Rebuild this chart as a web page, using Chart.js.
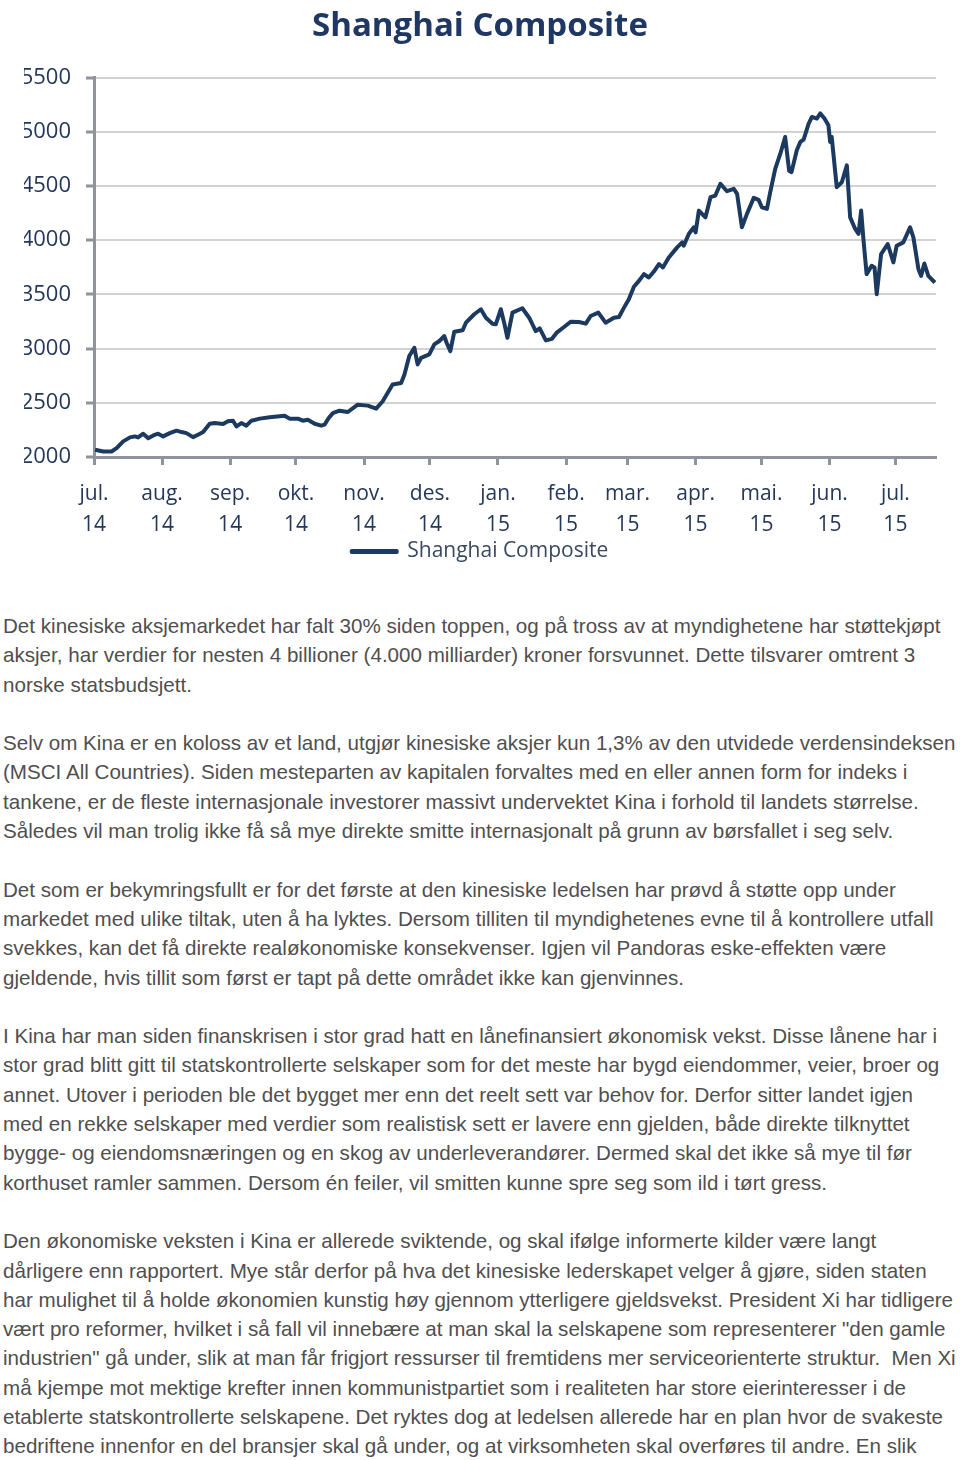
<!DOCTYPE html>
<html>
<head>
    <title>Shanghai Composite</title>
    <script src="https://cdn.jsdelivr.net/npm/chart.js"></script>
    <style>
        body {
            margin: 0;
            background: #fff;
        }
        #chartBox {
            position: absolute;
            left: 0;
            top: 0;
            width: 960px;
            height: 572px;
        }
        #article {
            position: absolute;
            left: 3px;
            top: 611px;
            font-family: "Liberation Sans", Arial, sans-serif;
            font-size: 20.6px;
            line-height: 29.3px;
            color: #4f4f4f;
            white-space: nowrap;
        }
        #article p {
            margin: 0 0 29.3px 0;
        }
    </style>
</head>
<body>
    <div id="chartBox"><canvas id="chart"></canvas></div>

    <div id="article">
        <p>Det kinesiske aksjemarkedet har falt 30% siden toppen, og på tross av at myndighetene har støttekjøpt<br>
        aksjer, har verdier for nesten 4 billioner (4.000 milliarder) kroner forsvunnet. Dette tilsvarer omtrent 3<br>
        norske statsbudsjett.</p>
        <p>Selv om Kina er en koloss av et land, utgjør kinesiske aksjer kun 1,3% av den utvidede verdensindeksen<br>
        (MSCI All Countries). Siden mesteparten av kapitalen forvaltes med en eller annen form for indeks i<br>
        tankene, er de fleste internasjonale investorer massivt undervektet Kina i forhold til landets størrelse.<br>
        Således vil man trolig ikke få så mye direkte smitte internasjonalt på grunn av børsfallet i seg selv.</p>
        <p>Det som er bekymringsfullt er for det første at den kinesiske ledelsen har prøvd å støtte opp under<br>
        markedet med ulike tiltak, uten å ha lyktes. Dersom tilliten til myndighetenes evne til å kontrollere utfall<br>
        svekkes, kan det få direkte realøkonomiske konsekvenser. Igjen vil Pandoras eske-effekten være<br>
        gjeldende, hvis tillit som først er tapt på dette området ikke kan gjenvinnes.</p>
        <p>I Kina har man siden finanskrisen i stor grad hatt en lånefinansiert økonomisk vekst. Disse lånene har i<br>
        stor grad blitt gitt til statskontrollerte selskaper som for det meste har bygd eiendommer, veier, broer og<br>
        annet. Utover i perioden ble det bygget mer enn det reelt sett var behov for. Derfor sitter landet igjen<br>
        med en rekke selskaper med verdier som realistisk sett er lavere enn gjelden, både direkte tilknyttet<br>
        bygge- og eiendomsnæringen og en skog av underleverandører. Dermed skal det ikke så mye til før<br>
        korthuset ramler sammen. Dersom én feiler, vil smitten kunne spre seg som ild i tørt gress.</p>
        <p>Den økonomiske veksten i Kina er allerede sviktende, og skal ifølge informerte kilder være langt<br>
        dårligere enn rapportert. Mye står derfor på hva det kinesiske lederskapet velger å gjøre, siden staten<br>
        har mulighet til å holde økonomien kunstig høy gjennom ytterligere gjeldsvekst. President Xi har tidligere<br>
        vært pro reformer, hvilket i så fall vil innebære at man skal la selskapene som representerer "den gamle<br>
        industrien" gå under, slik at man får frigjort ressurser til fremtidens mer serviceorienterte struktur.&nbsp; Men Xi<br>
        må kjempe mot mektige krefter innen kommunistpartiet som i realiteten har store eierinteresser i de<br>
        etablerte statskontrollerte selskapene. Det ryktes dog at ledelsen allerede har en plan hvor de svakeste<br>
        bedriftene innenfor en del bransjer skal gå under, og at virksomheten skal overføres til andre. En slik</p>
    </div>

    <script>
        // days since 1 jul 2014
        const days = [
            0.5, 4.2, 8.0, 10.3, 13.3, 16.4, 18.6, 20.1, 22.4, 24.7,
            27.0, 29.2, 31.5, 34.5, 37.6, 39.9, 42.1, 45.1, 47.4, 49.7,
            52.7, 55.0, 58.8, 61.0, 63.3, 64.9, 67.1, 69.4, 71.7, 75.5,
            80.0, 86.8, 89.1, 92.9, 95.1, 97.4, 100.5, 103.5, 105.0, 106.9,
            108.8, 111.8, 115.6, 120.1, 124.7, 128.5, 131.5, 136.0, 139.9, 141.4,
            143.6, 145.9, 147.4, 149.0, 152.7, 155.0, 157.3, 159.5, 160.6, 162.3,
            164.1, 167.9, 169.4, 173.2, 176.2, 178.5, 181.5, 183.0, 185.3, 186.8,
            188.3, 190.6, 195.1, 198.2, 201.2, 203.0, 205.8, 208.6, 210.9, 214.1,
            217.1, 220.9, 224.0, 226.2, 229.7, 233.0, 236.8, 239.1, 241.4, 243.6,
            245.9, 248.2, 250.5, 252.7, 255.0, 257.3, 259.1, 261.8, 265.6, 267.9,
            268.6, 270.9, 273.2, 274.0, 275.5, 278.5, 280.8, 283.0, 285.3, 288.3,
            291.4, 292.9, 295.1, 297.4, 300.5, 302.7, 304.2, 306.5, 308.0, 310.3,
            312.6, 314.8, 316.6, 317.7, 320.1, 321.7, 323.2, 325.5, 327.0, 329.2,
            330.8, 332.7, 334.5, 335.3, 336.0, 338.3, 340.6, 342.9, 344.4, 346.7,
            348.2, 349.4, 350.5, 351.9, 354.2, 355.5, 356.5, 358.5, 361.5, 364.1,
            365.6, 368.6, 371.7, 373.2, 375.5, 376.7, 378.2, 380.0, 383.0
        ];

        const composite = [
            2067, 2051, 2051, 2082, 2144, 2181, 2190, 2181, 2215, 2174,
            2199, 2215, 2190, 2220, 2243, 2230, 2220, 2183, 2206, 2230,
            2307, 2313, 2304, 2329, 2335, 2282, 2313, 2289, 2335, 2354,
            2366, 2381, 2354, 2354, 2335, 2344, 2307, 2289, 2298, 2360,
            2405, 2427, 2415, 2483, 2474, 2446, 2514, 2669, 2683, 2761,
            2931, 3008, 2854, 2915, 2946, 3039, 3070, 3116, 3054, 2977,
            3156, 3169, 3239, 3317, 3363, 3285, 3230, 3224, 3363, 3239,
            3100, 3332, 3372, 3285, 3162, 3187, 3076, 3090, 3150, 3199,
            3248, 3245, 3230, 3301, 3332, 3239, 3285, 3292, 3378, 3456,
            3570, 3625, 3687, 3656, 3711, 3780, 3749, 3841, 3934, 3980,
            3949, 4058, 4119, 4072, 4273, 4211, 4397, 4412, 4521, 4452,
            4474, 4428, 4119, 4243, 4391, 4372, 4304, 4289, 4443, 4660,
            4798, 4952, 4640, 4628, 4829, 4906, 4928, 5076, 5137, 5122,
            5169, 5122, 5060, 4906, 4952, 4489, 4535, 4690, 4211, 4104,
            4058, 4273, 3995, 3687, 3764, 3749, 3502, 3872, 3965, 3795,
            3949, 3980, 4119, 4026, 3733, 3671, 3785, 3671, 3609
        ];

        // month ticks
        const monthStarts = [0, 31, 62, 92, 123, 153, 184, 215, 243, 274, 304, 335, 365];
        const monthLabels = [
            ['jul.', '14'], ['aug.', '14'], ['sep.', '14'], ['okt.', '14'], ['nov.', '14'],
            ['des.', '14'], ['jan.', '15'], ['feb.', '15'], ['mar.', '15'], ['apr.', '15'],
            ['mai.', '15'], ['jun.', '15'], ['jul.', '15']
        ];
        const yTicks = [2000, 2500, 3000, 3500, 4000, 4500, 5000, 5500];

        const navy = '#1c3a60';
        const axisGrey = '#8e939c';
        const tickText = '#253859';

        const points = days.map((d, i) => ({ x: d, y: composite[i] }));

        new Chart(document.getElementById('chart'), {
            type: 'line',
            data: {
                datasets: [{
                    label: 'Shanghai Composite',
                    data: points,
                    borderColor: navy,
                    backgroundColor: navy,
                    borderWidth: 4,
                    borderJoinStyle: 'round',
                    pointRadius: 0,
                    tension: 0
                }]
            },
            options: {
                responsive: true,
                maintainAspectRatio: false,
                animation: false,
                layout: { padding: { left: 24, right: 24, top: 0, bottom: 0 } },
                plugins: {
                    title: {
                        display: true,
                        text: 'Shanghai Composite',
                        color: '#1f3763',
                        font: { family: 'Open Sans', size: 33, weight: 'bold' },
                        padding: { top: 7, bottom: 31 }
                    },
                    legend: {
                        position: 'bottom',
                        labels: {
                            boxWidth: 45,
                            boxHeight: 1,
                            color: '#3a4862',
                            font: { family: 'Open Sans', size: 21 },
                            padding: 2
                        }
                    },
                    tooltip: { enabled: false }
                },
                scales: {
                    x: {
                        type: 'linear',
                        min: 0,
                        max: 383.5,
                        afterBuildTicks: (scale) => {
                            scale.ticks = monthStarts.map(v => ({ value: v }));
                        },
                        afterFit: (scale) => { scale.height = 82; },
                        ticks: {
                            autoSkip: false,
                            maxRotation: 0,
                            padding: 14,
                            color: tickText,
                            font: { family: 'Open Sans', size: 21, lineHeight: 1.45 },
                            callback: (value) => monthLabels[monthStarts.indexOf(value)]
                        },
                        grid: {
                            drawOnChartArea: false,
                            tickLength: 8,
                            tickColor: axisGrey,
                            tickWidth: 3
                        },
                        border: { color: axisGrey, width: 3 }
                    },
                    y: {
                        min: 2000,
                        max: 5500,
                        afterBuildTicks: (scale) => {
                            scale.ticks = yTicks.map(v => ({ value: v }));
                        },
                        afterFit: (scale) => { scale.width = 70; },
                        ticks: {
                            padding: 15,
                            color: tickText,
                            font: { family: 'Open Sans', size: 22 },
                            callback: (value) => String(value)
                        },
                        grid: {
                            color: '#d2d2d2',
                            lineWidth: 2,
                            tickLength: 8,
                            tickColor: axisGrey,
                            tickWidth: 3
                        },
                        border: { color: axisGrey, width: 3 }
                    }
                }
            }
        });
    </script>
</body>
</html>
